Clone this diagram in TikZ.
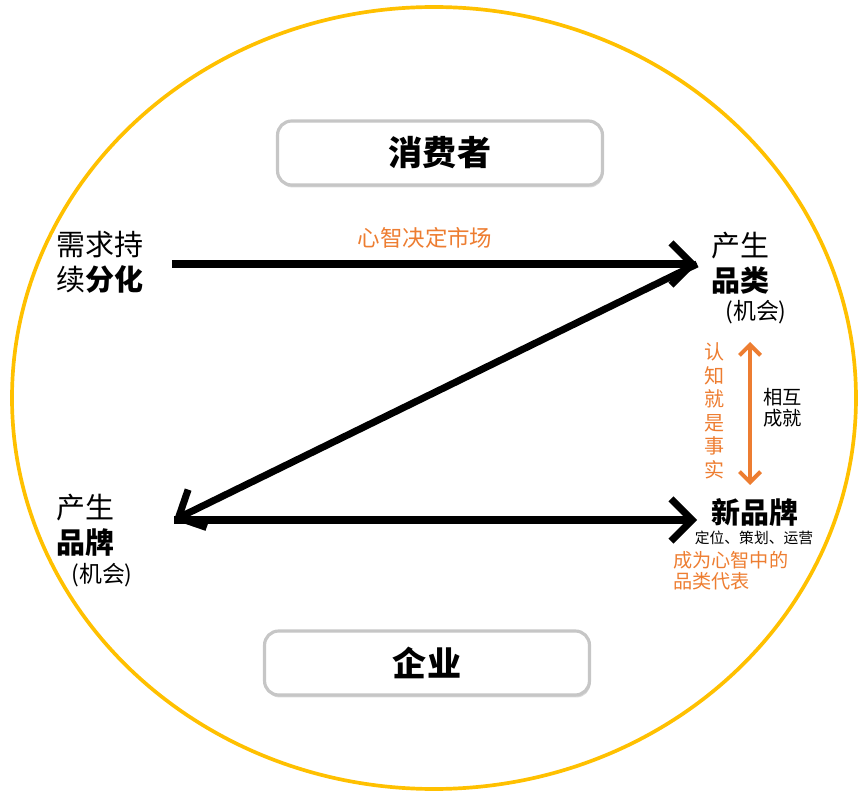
\documentclass[tikz,border=0pt]{standalone}
\usepackage{fontspec}
\setmainfont{Noto Sans CJK SC}
\usetikzlibrary{arrows.meta,shadows,positioning}

\definecolor{ringyellow}{HTML}{FFC000}
\definecolor{mindorange}{HTML}{ED7D31}

\tikzset{
  titlebox/.style={draw=gray!45, line width=1.8pt, fill=white, rounded corners=8pt,
    minimum width=6.5cm, minimum height=1.28cm,
    drop shadow={opacity=0.3, shadow xshift=0.6pt, shadow yshift=-1.4pt},
    font=\fontsize{19.4}{22}\selectfont\bfseries},
  bigtxt/.style={font=\fontsize{16.5}{19.8}\selectfont, align=left, inner sep=0pt},
  chancetxt/.style={font=\fontsize{13}{15}\selectfont, inner sep=0pt},
  orangetxt/.style={text=mindorange, inner sep=0pt},
  bigarrow/.style={line width=4pt, -{Straight Barb[length=12pt,width=24pt]}},
  mutualarrow/.style={draw=mindorange, line width=2.3pt,
    {Straight Barb[length=6pt,width=12pt]}-{Straight Barb[length=6pt,width=12pt]}}
}

\begin{document}
\begin{tikzpicture}[x=0.02cm, y=-0.02cm]
  \useasboundingbox (0,0) rectangle (860,797);

  % outer ring
  \draw[ringyellow, line width=2.1pt] (434,398) ellipse [x radius=422, y radius=391];

  % consumer / company boxes
  \node[titlebox] (consumer) at (440,153) {消费者};
  \node[titlebox] (company) at (427,663) {企业};

  % left side
  \node[bigtxt, anchor=north west] (demand) at (56,231) {需求持\\续\textbf{分化}};
  \node[bigtxt, anchor=north west] (brandup) at (56,494) {产生\\\textbf{品牌}};
  \node[chancetxt] (brandchance) at (102,575) {(机会)};

  % right side
  \node[bigtxt, anchor=north west] (category) at (711,232) {产生\\\textbf{品类}};
  \node[chancetxt] (catchance) at (756,312) {(机会)};
  \node[bigtxt, anchor=west, font=\fontsize{16.5}{19.8}\selectfont\bfseries] (newbrand) at (711,512) {新品牌};
  \node[inner sep=0pt, font=\fontsize{8.4}{10}\selectfont] (plan) at (754,538) {定位、策划、运营};
  \node[orangetxt, anchor=north west, align=left, font=\fontsize{10.9}{12}\selectfont] (represent) at (673,551) {成为心智中的\\品类代表};

  % arrow ends
  \coordinate (topstart) at (172,264);
  \coordinate (topend) at (697,264);
  \coordinate (botstart) at (174,520);
  \coordinate (botend) at (697,520);

  % Z arrows
  \draw[bigarrow] (topstart) -- (topend);
  \draw[bigarrow] (topend) -- (botstart);
  \draw[bigarrow] (botstart) -- (botend);
  \node[orangetxt, font=\fontsize{12.8}{14}\selectfont] (mindmarket) at (425,238) {心智决定市场};

  % mutual arrow
  \coordinate (mutualtop) at (750,342);
  \coordinate (mutualbot) at (750,485);
  \draw[mutualarrow] (mutualtop) -- (mutualbot);
  \node[orangetxt, align=center, font=\fontsize{11.4}{13.4}\selectfont] (cognition) at (715,411) {认\\知\\就\\是\\事\\实};
  \node[inner sep=0pt, align=left, font=\fontsize{11}{12}\selectfont, anchor=west] (mutual) at (763,408) {相互\\成就};
\end{tikzpicture}
\end{document}
